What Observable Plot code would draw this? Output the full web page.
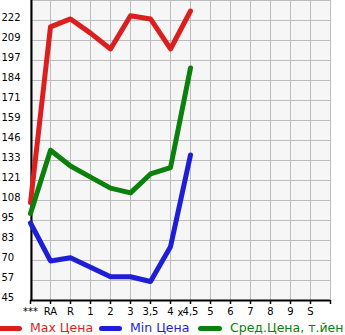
<!DOCTYPE html>
<html>
<head>
<meta charset="utf-8">
<script src="https://cdn.jsdelivr.net/npm/d3@7"></script>
<script src="https://cdn.jsdelivr.net/npm/@observablehq/plot@0.6"></script>
<style>
  body { margin: 0; background: #fff; }
  #wrap { position: relative; width: 345px; height: 335px; overflow: hidden; font-family: "DejaVu Sans", sans-serif; }
  .sw { position: absolute; height: 5px; border-radius: 3px; top: 326px; }
  .lt { position: absolute; top: 319px; font-size: 12.5px; line-height: 18px; white-space: nowrap; }
</style>
</head>
<body>
<div id="wrap"></div>
<script>
const categories = ["***", "RA", "R", "1", "2", "3", "3,5", "4", "4,5", "5", "6", "7", "8", "9", "S"];
const maxPrice = [107, 218, 223, 214, 204, 225, 223, 204, 228];
const minPrice = [94, 70, 72, 66, 60, 60, 57, 79, 137];
const avgPrice = [100, 140, 130, 123, 116, 113, 125, 129, 192];
const yLabels = ["45", "57", "70", "83", "95", "108", "121", "133", "146", "159", "171", "184", "197", "209", "222"];
const seriesNames = ["Max Цена", "Min Цена", "Сред.Цена, т.йен"];
const colors = ["#dc1e1e", "#1e1ed8", "#0b800b"];

const yMin = 45, yMaxLabel = 222;
const yStep = (yMaxLabel - yMin) / (yLabels.length - 1);
const yTicks = yLabels.map((_, i) => yMin + i * yStep);
const xDomain = [...categories, ""];

const rows = [];
[maxPrice, minPrice, avgPrice].forEach((arr, s) => arr.forEach((v, i) => rows.push({series: seriesNames[s], x: categories[i], v})));

const chart = Plot.plot({
  width: 345,
  height: 318,
  marginLeft: 30,
  marginRight: 15,
  marginTop: 0,
  marginBottom: 18,
  style: {fontFamily: "DejaVu Sans, sans-serif", fontSize: "10px", background: "#fff"},
  x: {type: "point", domain: xDomain, range: [30, 330], padding: 0, axis: null},
  y: {domain: [yMin, yMin + yLabels.length * yStep], range: [300, 0], axis: null},
  color: {domain: seriesNames, range: colors},
  marks: [
    Plot.frame({fill: "#f6f6f6", stroke: "#bdbdbd"}),
    Plot.ruleY(yTicks, {stroke: "#bdbdbd", strokeWidth: 1}),
    Plot.ruleX(xDomain, {stroke: "#bdbdbd", strokeWidth: 1}),
    Plot.axisX({tickSize: 4, stroke: "#000", strokeWidth: 1.5, tickPadding: 3, fill: "#000", fontSize: 10}),
    Plot.ruleY([yMin], {stroke: "#000", strokeWidth: 2}),
    Plot.ruleX([categories[0]], {stroke: "#000", strokeWidth: 2, dx: 1}),
    Plot.text(yTicks, {y: d => d, text: (d, i) => yLabels[i], frameAnchor: "left", textAnchor: "start", dx: -29, dy: -3, fill: "#000", fontSize: 10}),
    Plot.line(rows, {x: "x", y: "v", z: "series", stroke: "series", strokeWidth: 5, strokeLinecap: "round", strokeLinejoin: "round"})
  ]
});

const wrap = document.getElementById("wrap");
wrap.appendChild(chart);

const legendPos = [[-4, 22, 30], [99, 122, 130], [198, 222, 230]];
seriesNames.forEach((name, i) => {
  const [a, b, t] = legendPos[i];
  const sw = document.createElement("div");
  sw.className = "sw";
  sw.style.left = a + "px";
  sw.style.width = (b - a) + "px";
  sw.style.background = colors[i];
  wrap.appendChild(sw);
  const lt = document.createElement("div");
  lt.className = "lt";
  lt.style.left = t + "px";
  lt.style.color = colors[i];
  lt.textContent = name;
  wrap.appendChild(lt);
});
</script>
</body>
</html>
